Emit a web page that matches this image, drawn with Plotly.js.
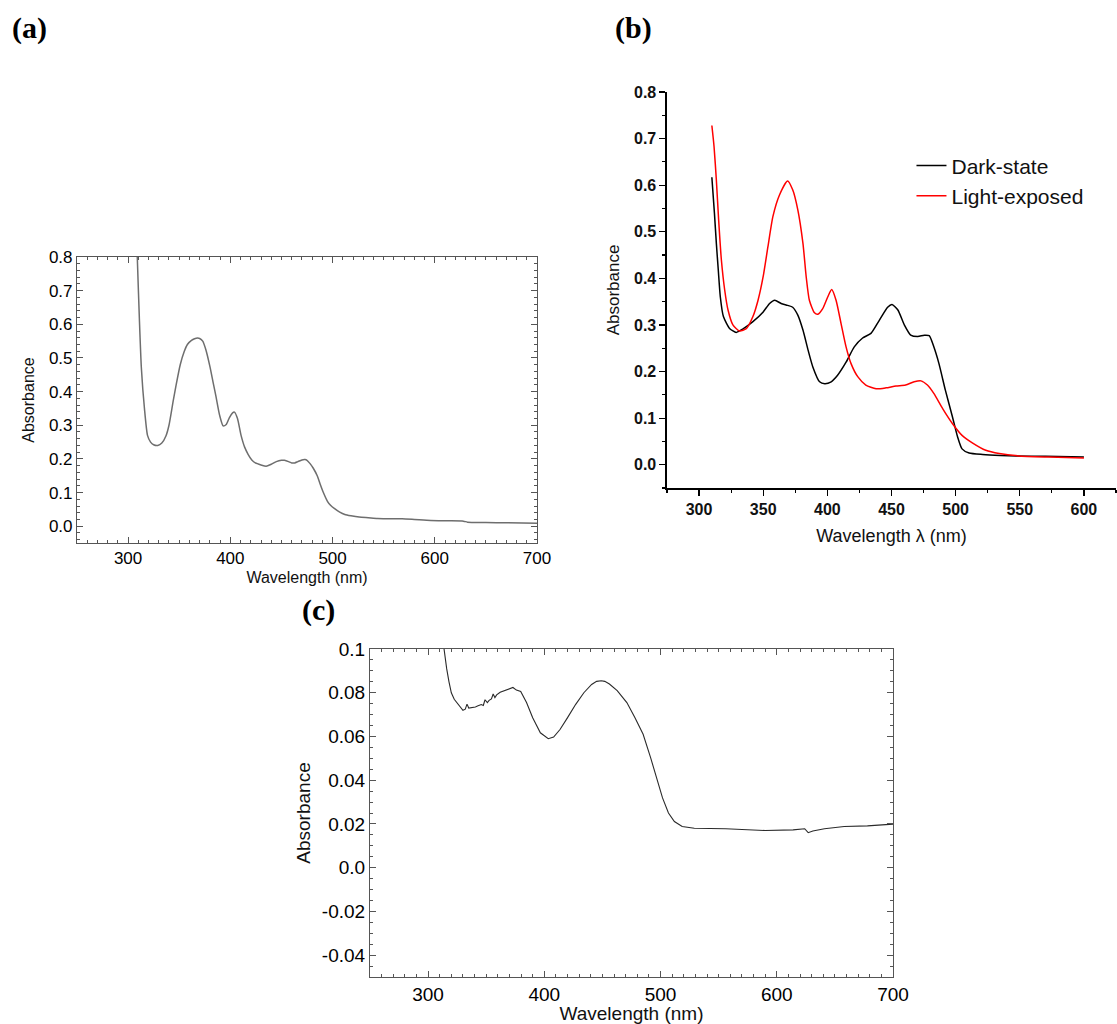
<!DOCTYPE html>
<html>
<head>
<meta charset="utf-8">
<script src="https://cdn.plot.ly/plotly-3.0.1.min.js"></script>
<style>html,body{margin:0;padding:0;background:#fff;}#chart{width:1117px;height:1024px;}</style>
</head>
<body>
<div id="chart"></div>
<script>
// Panel (a) spectrum
const aWl  = [307.5,309,311,313,316,319,322,325,329,333,337,340,344,347,351,355,358,362,365,368,370,373,376,380,383,386,389.5,393,396,399,402,404,407,410.5,414,417.5,421,424.5,430,435,440,445,450,453,457,460,463,466,470,473,475,478,481,485,488,491,495,498,502,507,512,518,526,535,544,556,568,580,596,612,628,632,650,670,700];
const aAbs = [0.95,0.80,0.62,0.47,0.35,0.27,0.25,0.242,0.24,0.247,0.268,0.30,0.37,0.42,0.48,0.52,0.54,0.552,0.557,0.559,0.558,0.550,0.525,0.475,0.43,0.385,0.33,0.298,0.302,0.322,0.336,0.339,0.32,0.27,0.235,0.213,0.197,0.188,0.182,0.178,0.184,0.192,0.196,0.196,0.192,0.188,0.188,0.192,0.197,0.198,0.196,0.186,0.173,0.15,0.124,0.10,0.074,0.062,0.052,0.042,0.035,0.031,0.027,0.025,0.023,0.022,0.022,0.020,0.017,0.016,0.015,0.012,0.011,0.010,0.009];

// Panel (b) spectra
const bWlDark  = [310,312,313.5,315,316.6,319,324,329,334,342,350,355,359,364,369,373,377,381,385,388.7,394,398,403,408,414.6,421,427.5,434,440.5,447,450.4,455,460,465,470.5,475.5,479.4,483,487,492,497.6,501.5,505,510.5,521,535,547,570,600];
const bAbsDark = [0.617,0.54,0.475,0.418,0.36,0.318,0.292,0.284,0.291,0.307,0.328,0.346,0.353,0.346,0.342,0.338,0.321,0.289,0.246,0.21,0.178,0.174,0.178,0.192,0.22,0.253,0.272,0.282,0.31,0.338,0.344,0.332,0.30,0.278,0.275,0.278,0.277,0.253,0.217,0.16,0.102,0.06,0.034,0.025,0.022,0.020,0.019,0.018,0.0165];
const bWlLight  = [310,311.7,313.5,315.3,317.4,320,322.6,326.4,331.6,336.8,342,346,350,353.7,357.6,362.7,369,373,377,381,383.5,386,390,392.6,396.4,400.3,403.4,406.8,410.7,414.6,418.5,423.7,430,438,445.7,453.5,461,467.7,473,478,483,490,497.6,505,513,523.5,534,549,572.7,600];
const bAbsLight = [0.728,0.683,0.611,0.525,0.44,0.375,0.332,0.30,0.287,0.292,0.318,0.353,0.404,0.468,0.533,0.579,0.609,0.59,0.547,0.475,0.404,0.353,0.326,0.323,0.335,0.36,0.376,0.353,0.303,0.253,0.217,0.189,0.171,0.163,0.165,0.169,0.171,0.178,0.18,0.171,0.153,0.12,0.088,0.063,0.047,0.031,0.024,0.019,0.0165,0.0143];

// Panel (c) spectrum
const cWl  = [312.5,314,316,318,320,322.5,324.7,328,330,332,333.5,335,338,340.7,343,345.8,347.5,349,351,352.5,354.5,356,357.5,359,362,366,369,371,373,376,379.7,384.7,390,396.6,403.4,408,413.5,420,427,434,440.7,445,449,452,456,462.7,471,478,485,491.5,496.6,501.7,506.8,511.9,518.6,529,556,590,614,624,627,631,641,658,678,690,700];
const cAbs = [0.105,0.098,0.091,0.085,0.080,0.077,0.0755,0.0735,0.072,0.0725,0.0748,0.073,0.0732,0.0735,0.074,0.0746,0.0742,0.0768,0.0755,0.0765,0.0772,0.0794,0.0778,0.079,0.0802,0.081,0.0815,0.0818,0.0824,0.0812,0.0806,0.0755,0.0686,0.0617,0.059,0.0597,0.0632,0.0686,0.0747,0.080,0.0838,0.0852,0.0855,0.0852,0.084,0.081,0.0755,0.0686,0.061,0.0502,0.041,0.0319,0.025,0.0211,0.0188,0.018,0.0178,0.017,0.0173,0.0178,0.016,0.0168,0.0178,0.0188,0.0191,0.0195,0.0199];
const cTickVals = [-0.04,-0.02,0,0.02,0.04,0.06,0.08,0.1];
const cTickText = ["-0.04","-0.02","0.0","0.02","0.04","0.06","0.08","0.1"];

const sans = "Liberation Sans, Arial, sans-serif";
const traces = [
  {x:aWl, y:aAbs, xaxis:'x', yaxis:'y', mode:'lines', line:{color:'#6e6e6e', width:1.5, shape:'spline', smoothing:0.6}, showlegend:false},
  {x:bWlDark, y:bAbsDark, xaxis:'x2', yaxis:'y2', mode:'lines', name:'Dark-state', line:{color:'#000000', width:1.5, shape:'spline', smoothing:0.6}},
  {x:bWlLight, y:bAbsLight, xaxis:'x2', yaxis:'y2', mode:'lines', name:'Light-exposed', line:{color:'#ff0000', width:1.5, shape:'spline', smoothing:0.6}},
  {x:cWl, y:cAbs, xaxis:'x3', yaxis:'y3', mode:'lines', line:{color:'#2a2a2a', width:1.1}, showlegend:false}
];

const boxAxis = (extra) => Object.assign({
  showline:true, linecolor:'#555', linewidth:1, mirror:'allticks',
  ticks:'inside', ticklen:6, tickcolor:'#555', showgrid:false, zeroline:false,
  tickfont:{family:sans, size:17, color:'#000'}
}, extra);

const layout = {
  width:1117, height:1024,
  margin:{l:0, r:0, t:0, b:0},
  paper_bgcolor:'#fff', plot_bgcolor:'#fff',
  font:{family:sans, color:'#111'},
  showlegend:true,
  legend:{x:0.816, y:0.858, xanchor:'left', yanchor:'top', font:{family:sans, size:21, color:'#111'}, itemwidth:30, tracegroupgap:0, bgcolor:'rgba(0,0,0,0)'},
  xaxis: boxAxis({domain:[0.0689,0.4808], anchor:'y', range:[250,700], dtick:100, tick0:0,
    minor:{dtick:10, ticklen:3, ticks:'inside', tickcolor:'#555'},
    title:{text:'Wavelength (nm)', font:{family:sans, size:16, color:'#111'}, standoff:4}}),
  yaxis: boxAxis({domain:[0.4697,0.7490], anchor:'x', range:[-0.05,0.8], dtick:0.1, tick0:0, tickformat:'.1f',
    minor:{dtick:0.02, ticklen:3, ticks:'inside', tickcolor:'#555'},
    title:{text:'Absorbance', font:{family:sans, size:16, color:'#111'}, standoff:10}}),
  xaxis2: {domain:[0.5971,0.9991], anchor:'y2', range:[275,625], dtick:50, tick0:300,
    showline:true, linecolor:'#000', linewidth:1.5, ticks:'outside', ticklen:6, tickwidth:1.2, tickcolor:'#000',
    minor:{dtick:25, tick0:275, ticklen:3, ticks:'outside', tickcolor:'#000'},
    showgrid:false, zeroline:false,
    tickfont:{family:sans, size:16, color:'#111', weight:'bold'},
    title:{text:'Wavelength λ (nm)', font:{family:sans, size:18, color:'#111'}, standoff:12}},
  yaxis2: {domain:[0.5234,0.9102], anchor:'x2', range:[-0.05,0.8], dtick:0.1, tick0:0, tickformat:'.1f',
    showline:true, linecolor:'#000', linewidth:1.5, ticks:'outside', ticklen:6, tickwidth:1.2, tickcolor:'#000',
    minor:{dtick:0.05, ticklen:3, ticks:'outside', tickcolor:'#000'},
    showgrid:false, zeroline:false,
    tickfont:{family:sans, size:16, color:'#111', weight:'bold'},
    title:{text:'Absorbance', font:{family:sans, size:17, color:'#111'}, standoff:10}},
  xaxis3: boxAxis({domain:[0.3312,0.7995], anchor:'y3', range:[250,700], dtick:100, tick0:0,
    tickfont:{family:sans, size:19, color:'#000'},
    minor:{dtick:10, ticklen:3, ticks:'inside', tickcolor:'#555'},
    title:{text:'Wavelength (nm)', font:{family:sans, size:19, color:'#111'}, standoff:2}}),
  yaxis3: boxAxis({domain:[0.0459,0.3662], anchor:'x3', range:[-0.05,0.1], tickmode:'array', tickvals:cTickVals, ticktext:cTickText,
    tickfont:{family:sans, size:19, color:'#000'},
    minor:{dtick:0.005, ticklen:3, ticks:'inside', tickcolor:'#555'},
    title:{text:'Absorbance', font:{family:sans, size:19, color:'#111'}, standoff:6}}),
  annotations:[
    {text:'<b>(a)</b>', xref:'paper', yref:'paper', x:0.026, y:0.973, xanchor:'center', yanchor:'middle', showarrow:false, font:{family:'Liberation Serif, Times New Roman, serif', size:30, color:'#000'}},
    {text:'<b>(b)</b>', xref:'paper', yref:'paper', x:0.567, y:0.973, xanchor:'center', yanchor:'middle', showarrow:false, font:{family:'Liberation Serif, Times New Roman, serif', size:30, color:'#000'}},
    {text:'<b>(c)</b>', xref:'paper', yref:'paper', x:0.285, y:0.404, xanchor:'center', yanchor:'middle', showarrow:false, font:{family:'Liberation Serif, Times New Roman, serif', size:30, color:'#000'}}
  ]
};

Plotly.newPlot('chart', traces, layout, {staticPlot:true, displayModeBar:false});
</script>
</body>
</html>
